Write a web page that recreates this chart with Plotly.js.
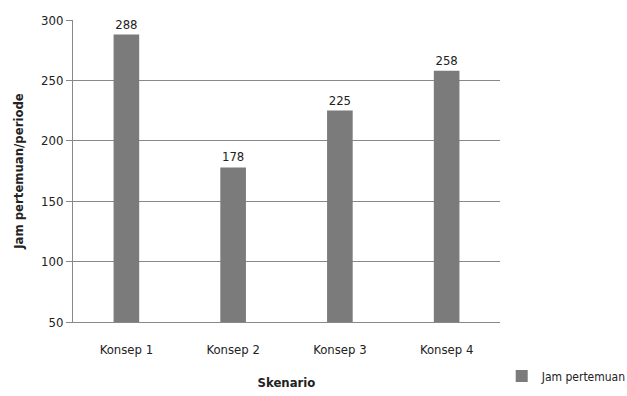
<!DOCTYPE html>
<html><head><meta charset="utf-8">
<script src="https://cdn.plot.ly/plotly-3.0.1.min.js"></script>
<style>body{margin:0;background:#fff}#c{width:627px;height:396px}</style>
</head><body><div id="c"></div>
<script>
const categories = ["Konsep 1", "Konsep 2", "Konsep 3", "Konsep 4"];
const values = [288, 178, 225, 258];
const seriesName = "Jam pertemuan";
const yTicks = [50, 100, 150, 200, 250, 300];

const font = "'Liberation Sans Narrow', 'DejaVu Sans Condensed', 'Liberation Sans', sans-serif";
const trace = {
  type: "bar", x: categories, y: values, name: seriesName,
  marker: {color: "#7b7b7b"},
  text: values.map(String), textposition: "outside", cliponaxis: false,
  textfont: {family: font, size: 13, color: "#222"},
  showlegend: true
};
const layout = {
  width: 627, height: 396,
  margin: {l: 73, r: 127, t: 20, b: 74, autoexpand: false},
  paper_bgcolor: "#fff", plot_bgcolor: "#fff",
  font: {family: font, size: 13, color: "#222"},
  bargap: 0.76,
  xaxis: {
    showline: true, linecolor: "#888", linewidth: 1,
    ticks: "", ticklabelstandoff: 15,
    tickfont: {family: font, size: 13, color: "#222"},
    title: {text: "<b>Skenario</b>", font: {family: font, size: 13, color: "#222"}, standoff: 22}
  },
  yaxis: {
    range: [50, 300], tickvals: yTicks, ticktext: yTicks.map(String),
    showgrid: true, gridcolor: "#888", gridwidth: 1,
    showline: true, linecolor: "#888", linewidth: 1,
    ticks: "outside", ticklen: 6, tickcolor: "#888",
    zeroline: false,
    tickfont: {family: font, size: 13, color: "#222"},
    title: {text: "<b>Jam pertemuan/periode</b>", font: {family: font, size: 13, color: "#222"}, standoff: 14}
  },
  legend: {x: 1.004, xanchor: "left", y: -0.179, yanchor: "middle", itemwidth: 30,
    font: {family: font, size: 12, color: "#222"}, bgcolor: "rgba(0,0,0,0)"},
  bargroupgap: 0
};
Plotly.newPlot("c", [trace], layout, {displayModeBar: false, staticPlot: true});
</script>
</body></html>
